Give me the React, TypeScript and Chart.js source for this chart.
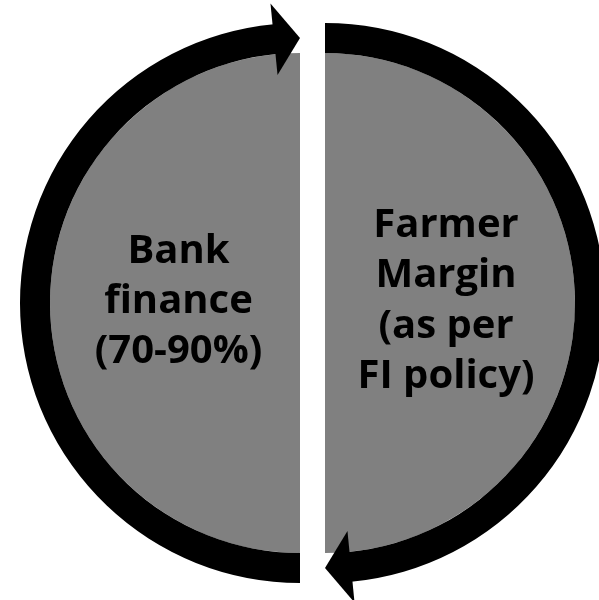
import React, { useEffect, useRef } from "react";
import { Chart, registerables } from "chart.js";

Chart.register(...registerables);

// Two halves of the cycle, clockwise from the top (right half first)
const halfNames = ["Farmer Margin (as per FI policy)", "Bank finance (70-90%)"];
const halfShares = [50, 50];

// Outer black cycle ring, in degrees clockwise from the top:
// right arc body, right arrow head, left arc body, left arrow head
const ringArcs = [174.6, 5.4, 174.6, 5.4];
const ringRoles = ["body", "head", "body", "head"];

// Label lines for each half
const rightLines = ["Farmer", "Margin", "(as per", "FI policy)"];
const leftLines = ["Bank", "finance", "(70-90%)"];

const GAP = 25; // horizontal split between the halves
const FONT = "bold 40px 'Open Sans', 'Noto Sans', sans-serif";

function sideOf(arc: any) {
  const mid = (arc.startAngle + arc.endAngle) / 2;
  return Math.cos(mid) >= 0 ? 1 : -1;
}

const splitPlugin = {
  id: "splitCycle",
  beforeDatasetDraw(chart: any, args: any) {
    const ctx: CanvasRenderingContext2D = chart.ctx;
    const ds: any = chart.data.datasets[args.index];
    args.meta.data.forEach((arc: any, i: number) => {
      const side = sideOf(arc);
      ctx.save();
      ctx.translate((side * GAP) / 2, 0);
      if (ds.roles && ds.roles[i] === "head") {
        const { x, y, startAngle, endAngle, innerRadius, outerRadius } = arc;
        const rm = (innerRadius + outerRadius) / 2;
        const half = 1.2 * (outerRadius - innerRadius);
        const a0 = startAngle - 0.004;
        ctx.beginPath();
        ctx.moveTo(x + (rm - half) * Math.cos(a0), y + (rm - half) * Math.sin(a0));
        ctx.lineTo(x + (rm + half) * Math.cos(a0), y + (rm + half) * Math.sin(a0));
        ctx.lineTo(x + rm * Math.cos(endAngle), y + rm * Math.sin(endAngle));
        ctx.closePath();
        ctx.fillStyle = "#000000";
        ctx.fill();
      } else {
        arc.draw(ctx);
      }
      ctx.restore();
    });
    return false;
  },
  afterDatasetsDraw(chart: any) {
    const ctx: CanvasRenderingContext2D = chart.ctx;
    const meta = chart.getDatasetMeta(1);
    const specs = [
      { lines: rightLines, dx: 121, dy: -66, lh: 50.3 },
      { lines: leftLines, dx: -121.5, dy: -40, lh: 50 },
    ];
    meta.data.forEach((arc: any, i: number) => {
      const side = sideOf(arc);
      const cx = arc.x + (side * GAP) / 2;
      const spec = specs[i];
      ctx.save();
      ctx.font = FONT;
      ctx.fillStyle = "#000000";
      ctx.textAlign = "center";
      ctx.textBaseline = "alphabetic";
      spec.lines.forEach((line, k) => {
        ctx.fillText(line, cx + spec.dx, arc.y + spec.dy + k * spec.lh);
      });
      ctx.restore();
    });
  },
};

export default function App() {
  const ref = useRef<HTMLCanvasElement>(null);
  useEffect(() => {
    const chart = new Chart(ref.current as HTMLCanvasElement, {
      type: "pie",
      data: {
        labels: halfNames,
        datasets: [
          {
            label: "cycle",
            data: ringArcs,
            backgroundColor: "#000000",
            borderWidth: 0,
            weight: 30,
            roles: ringRoles,
          } as any,
          {
            label: "share",
            data: halfShares,
            backgroundColor: "#808080",
            borderWidth: 0,
            weight: 250,
          } as any,
        ],
      },
      options: {
        responsive: false,
        animation: false,
        events: [],
        layout: { padding: { left: 27.5, right: 1.5, top: 23, bottom: 17 } },
        plugins: {
          legend: { display: false },
          tooltip: { enabled: false },
          title: { display: false },
        },
      },
      plugins: [splitPlugin],
    });
    return () => chart.destroy();
  }, []);
  return (
    <div style={{ position: "absolute", left: 0, top: 0, width: 599, height: 600, background: "#ffffff" }}>
      <canvas ref={ref} width={599} height={600} style={{ display: "block" }} />
    </div>
  );
}
